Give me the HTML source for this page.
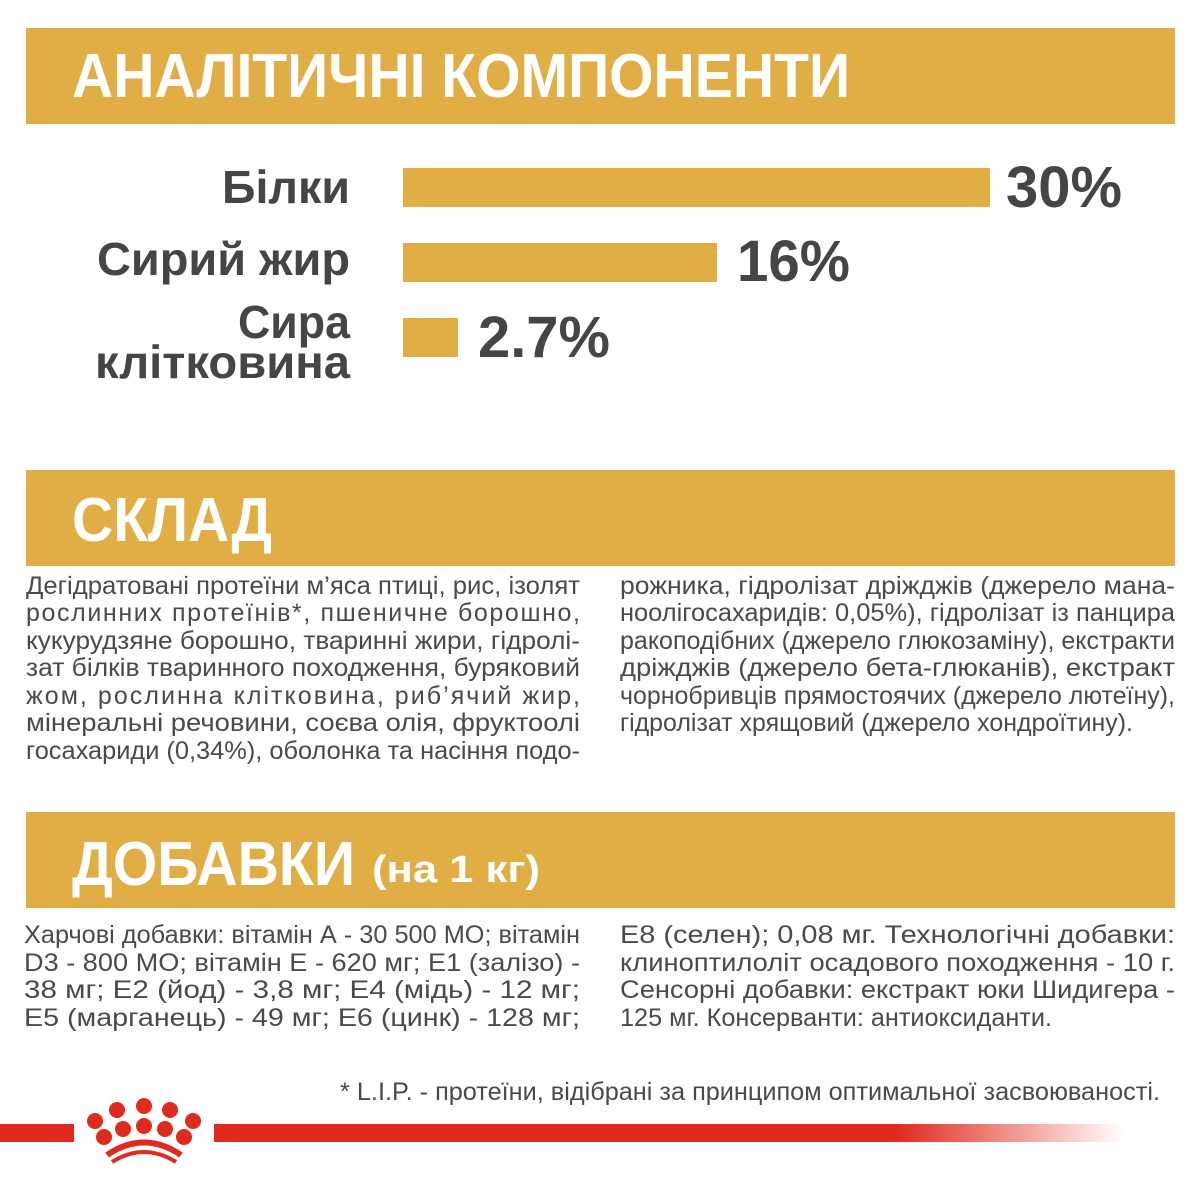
<!DOCTYPE html>
<html><head><meta charset="utf-8"><style>
html,body{margin:0;padding:0;background:#fff;}
svg{display:block;}
.h{font-family:"Liberation Sans Narrow","Liberation Sans",sans-serif;font-weight:bold;fill:#fff;}
.l{font-family:"Liberation Sans Narrow","Liberation Sans",sans-serif;font-weight:bold;fill:#454545;}
.t{font-family:"Liberation Sans Narrow","Liberation Sans",sans-serif;fill:#4a4a4a;font-size:25px;}
</style></head><body>
<svg width="1198" height="1200" viewBox="0 0 1198 1200" xmlns="http://www.w3.org/2000/svg">
<defs><linearGradient id="g" x1="0" x2="1"><stop offset="0.75" stop-color="#e02a1e"/><stop offset="1" stop-color="#e02a1e" stop-opacity="0"/></linearGradient></defs>
<rect x="26" y="28" width="1149" height="96" fill="#E0AE45"/>
<rect x="26" y="470" width="1149" height="96" fill="#E0AE45"/>
<rect x="26" y="812" width="1149" height="96" fill="#E0AE45"/>
<text class="h" x="72" y="97" font-size="62" textLength="778" lengthAdjust="spacingAndGlyphs">АНАЛІТИЧНІ КОМПОНЕНТИ</text>
<text class="h" x="72" y="541" font-size="62" textLength="200" lengthAdjust="spacingAndGlyphs">СКЛАД</text>
<text class="h" x="72" y="885" font-size="62" textLength="283" lengthAdjust="spacingAndGlyphs">ДОБАВКИ</text>
<text class="h" x="372" y="882" font-size="38" textLength="168" lengthAdjust="spacingAndGlyphs">(на 1 кг)</text>

<rect x="403" y="168" width="587" height="39" fill="#E0AE45"/>
<rect x="403" y="243" width="314" height="39" fill="#E0AE45"/>
<rect x="403" y="318" width="55" height="39" fill="#E0AE45"/>
<text class="l" x="222" y="203" font-size="46" textLength="128" lengthAdjust="spacingAndGlyphs">Білки</text>
<text class="l" x="97" y="275" font-size="46" textLength="253" lengthAdjust="spacingAndGlyphs">Сирий жир</text>
<text class="l" x="238" y="338" font-size="46" textLength="112" lengthAdjust="spacingAndGlyphs">Сира</text>
<text class="l" x="95" y="378" font-size="46" textLength="255" lengthAdjust="spacingAndGlyphs">клітковина</text>
<text class="l" x="1006" y="207" font-size="58" textLength="116" lengthAdjust="spacingAndGlyphs">30%</text>
<text class="l" x="737" y="281" font-size="58" textLength="113" lengthAdjust="spacingAndGlyphs">16%</text>
<text class="l" x="478" y="357" font-size="58" textLength="132" lengthAdjust="spacingAndGlyphs">2.7%</text>

<g class="t">
<text x="26" y="594" textLength="554" lengthAdjust="spacingAndGlyphs">Дегідратовані протеїни м’яса птиці, рис, ізолят</text>
<text x="26" y="621" textLength="554" lengthAdjust="spacing">рослинних протеїнів*, пшеничне борошно,</text>
<text x="26" y="649" textLength="554" lengthAdjust="spacingAndGlyphs">кукурудзяне борошно, тваринні жири, гідролі-</text>
<text x="26" y="676" textLength="554" lengthAdjust="spacingAndGlyphs">зат білків тваринного походження, буряковий</text>
<text x="26" y="704" textLength="554" lengthAdjust="spacing">жом, рослинна клітковина, риб’ячий жир,</text>
<text x="26" y="731" textLength="554" lengthAdjust="spacingAndGlyphs">мінеральні речовини, соєва олія, фруктоолі</text>
<text x="26" y="759" textLength="554" lengthAdjust="spacingAndGlyphs">госахариди (0,34%), оболонка та насіння подо-</text>
<text x="620" y="594" textLength="555" lengthAdjust="spacingAndGlyphs">рожника, гідролізат дріжджів (джерело мана-</text>
<text x="620" y="621" textLength="555" lengthAdjust="spacingAndGlyphs">ноолігосахаридів: 0,05%), гідролізат із панцира</text>
<text x="620" y="649" textLength="555" lengthAdjust="spacingAndGlyphs">ракоподібних (джерело глюкозаміну), екстракти</text>
<text x="620" y="676" textLength="555" lengthAdjust="spacingAndGlyphs">дріжджів (джерело бета-глюканів), екстракт</text>
<text x="620" y="704" textLength="555" lengthAdjust="spacingAndGlyphs">чорнобривців прямостоячих (джерело лютеїну),</text>
<text x="620" y="731" textLength="513" lengthAdjust="spacingAndGlyphs">гідролізат хрящовий (джерело хондроїтину).</text>
<text x="24" y="943" textLength="556" lengthAdjust="spacingAndGlyphs">Харчові добавки: вітамін А - 30 500 МО; вітамін</text>
<text x="24" y="971" textLength="556" lengthAdjust="spacingAndGlyphs">D3 - 800 МО; вітамін Е - 620 мг; Е1 (залізо) -</text>
<text x="24" y="998" textLength="556" lengthAdjust="spacingAndGlyphs">38 мг; Е2 (йод) - 3,8 мг; Е4 (мідь) - 12 мг;</text>
<text x="24" y="1026" textLength="556" lengthAdjust="spacingAndGlyphs">Е5 (марганець) - 49 мг; Е6 (цинк) - 128 мг;</text>
<text x="620" y="943" textLength="555" lengthAdjust="spacingAndGlyphs">Е8 (селен); 0,08 мг. Технологічні добавки:</text>
<text x="620" y="971" textLength="555" lengthAdjust="spacingAndGlyphs">клиноптилоліт осадового походження - 10 г.</text>
<text x="620" y="998" textLength="555" lengthAdjust="spacingAndGlyphs">Сенсорні добавки: екстракт юки Шидигера -</text>
<text x="620" y="1026" textLength="432" lengthAdjust="spacingAndGlyphs">125 мг. Консерванти: антиоксиданти.</text>
<text x="340" y="1100" textLength="820" lengthAdjust="spacingAndGlyphs">* L.I.P. - протеїни, відібрані за принципом оптимальної засвоюваності.</text>
</g>

<rect x="0" y="1124" width="74" height="18" fill="#e02a1e"/>
<rect x="214" y="1124" width="910" height="18" fill="url(#g)"/>
<g fill="#e02a1e">
<circle cx="95" cy="1121" r="8"/><circle cx="117" cy="1110" r="8"/><circle cx="144" cy="1106" r="8"/><circle cx="170" cy="1110" r="8"/><circle cx="193" cy="1121" r="8"/>
<circle cx="104" cy="1137" r="8"/><circle cx="123" cy="1129" r="8"/><circle cx="144" cy="1126" r="8"/><circle cx="165" cy="1129" r="8"/><circle cx="184" cy="1137" r="8"/>
</g>
<path d="M107 1155 Q144 1130 181 1155" stroke="#e02a1e" stroke-width="6" fill="none"/>
<path d="M112 1162 Q144 1142 176 1162" stroke="#e02a1e" stroke-width="4" fill="none"/>
</svg>
</body></html>
